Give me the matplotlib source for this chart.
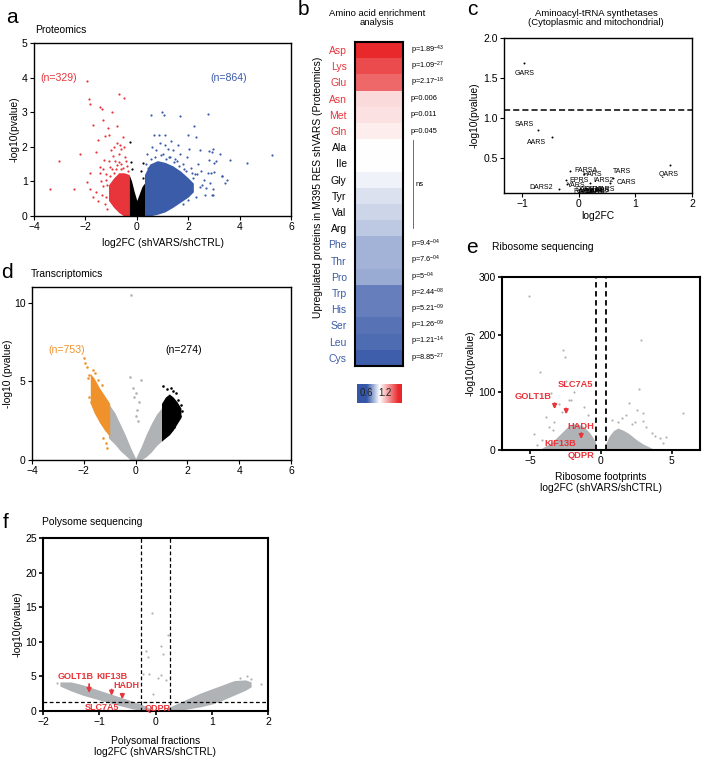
import numpy as np
import matplotlib
matplotlib.use("Agg")
import matplotlib.pyplot as plt
from matplotlib.colors import LinearSegmentedColormap, TwoSlopeNorm

plt.rcParams['font.family'] = ['Liberation Sans', 'DejaVu Sans']
plt.rcParams['mathtext.fontset'] = 'custom'
plt.rcParams['mathtext.rm'] = 'Liberation Sans'
plt.rcParams['axes.linewidth'] = 1.0

W, H = 703, 759
RED, BLUE, ORANGE, GREY = '#e8353b', '#3b5ca8', '#f0922b', '#b0b3b6'

# ---------------- data ----------------
# a: proteomics volcano (dense cores as envelopes + sparse points)
a_black_x = [-0.3, -0.2, -0.1, 0.0, 0.1, 0.2, 0.3]
a_black_hi = [1.2, 1.0, 0.7, 0.45, 0.65, 0.85, 0.95]
a_red_core_x = [-1.1, -0.9, -0.7, -0.5, -0.3]
a_red_core_lo = [0.45, 0.25, 0.1, 0.0, 0.0]
a_red_core_hi = [0.9, 1.1, 1.25, 1.25, 1.2]
a_blue_core_x = [0.3, 0.5, 0.8, 1.1, 1.4, 1.7, 2.0, 2.2]
a_blue_core_lo = [0.0, 0.0, 0.05, 0.12, 0.25, 0.4, 0.55, 0.7]
a_blue_core_hi = [1.2, 1.5, 1.6, 1.55, 1.45, 1.3, 1.1, 0.95]
a_red_x = [-3.38, -3.03, -2.44, -2.2, -1.93, -1.87, -1.81, -1.72, -1.43, -1.37, -1.3, -1.13,
           -0.96, -0.68, -0.5, -0.78, -1.52, -1.82, -1.82, -1.95, -1.24, -1.07, -0.76, -0.53,
           -0.61, -1.59, -1.43, -1.28, -0.93, -1.69, -1.51, -1.3, -1.04, -0.77, -1.2, -1.15,
           -1.4, -1.6, -1.0, -0.85, -0.7, -0.6, -0.9, -1.1, -0.65, -0.45, -0.5, -0.4, -1.35,
           -1.25, -1.15, -0.95, -0.8, -0.7, -1.2, -1.3, -1.05, -0.55, -0.35, -1.45, -1.18,
           -0.88, -0.42, -0.62]
a_red_y = [0.79, 1.6, 0.79, 1.8, 3.91, 3.38, 3.25, 2.64, 3.16, 3.1, 2.77, 2.55,
           3.0, 3.52, 3.4, 2.12, 2.19, 1.25, 0.78, 0.98, 2.32, 2.35, 2.6, 2.29,
           1.93, 1.86, 1.43, 1.63, 1.72, 0.56, 0.44, 0.86, 1.43, 1.48, 1.2, 0.9,
           1.0, 0.7, 1.9, 1.6, 1.8, 1.5, 2.0, 1.6, 2.05, 1.7, 2.0, 1.45, 0.6,
           0.35, 0.2, 1.35, 1.35, 1.55, 1.05, 1.35, 1.15, 1.4, 1.3, 1.25, 0.55,
           1.25, 1.6, 1.35]
a_blue_x = [0.54, 0.97, 1.05, 1.69, 2.78, 2.23, 2.3, 2.0, 0.68, 0.85, 1.08, 1.32, 2.95, 2.82,
            3.24, 3.63, 2.89, 3.3, 3.5, 3.44, 2.66, 2.98, 2.47, 2.27, 1.95, 1.69, 1.42, 2.91,
            2.82, 3.1, 3.02, 4.28, 5.26, 2.77, 3.0, 3.33, 2.85, 2.98, 2.93, 0.4, 0.6, 0.75,
            0.9, 1.0, 1.2, 1.3, 1.5, 1.6, 1.8, 1.9, 2.1, 2.2, 2.4, 2.5, 2.6, 2.1, 2.3, 1.8,
            2.0, 0.55, 0.35, 1.1, 1.7, 2.45, 2.05, 0.7, 0.95, 1.25, 1.55, 1.85, 2.35, 2.55,
            0.45, 1.15, 1.45, 2.15, 2.7, 1.65]
a_blue_y = [2.92, 3.0, 2.92, 2.9, 2.95, 2.6, 2.29, 2.35, 2.35, 2.35, 2.35, 2.18, 1.95, 1.88,
            1.78, 1.63, 1.25, 1.15, 1.04, 0.96, 0.6, 0.6, 0.84, 1.22, 1.7, 1.8, 1.91, 1.86,
            1.62, 1.6, 1.52, 1.53, 1.75, 1.25, 1.26, 1.17, 0.95, 0.77, 0.6, 1.8, 2.0, 1.9,
            2.1, 1.8, 1.95, 1.7, 1.65, 2.05, 1.5, 1.3, 1.4, 1.1, 1.5, 1.3, 1.05, 0.75, 0.55,
            0.35, 0.45, 1.65, 1.5, 2.05, 1.25, 1.9, 1.95, 1.7, 1.75, 1.7, 1.6, 1.35, 1.2,
            0.9, 1.4, 1.65, 1.55, 1.25, 0.8, 1.45]
a_black_px = [-0.27, -0.23, 0.23, -0.2, 0.15, 0.25]
a_black_py = [2.15, 1.57, 1.53, 1.35, 1.3, 1.1]

# b: amino acid enrichment
aa_names = ['Asp', 'Lys', 'Glu', 'Asn', 'Met', 'Gln', 'Ala', 'Ile', 'Gly', 'Tyr', 'Val', 'Arg',
            'Phe', 'Thr', 'Pro', 'Trp', 'His', 'Ser', 'Leu', 'Cys']
aa_group = ['up'] * 6 + ['ns'] * 6 + ['down'] * 8
aa_enrich = [1.6, 1.5, 1.42, 1.1, 1.08, 1.05, 1.0, 1.0, 0.97, 0.93, 0.9, 0.87,
             0.82, 0.82, 0.8, 0.7, 0.7, 0.67, 0.65, 0.62]
aa_pvals = [r'p=1.89$^{\mathregular{-43}}$', r'p=1.09$^{\mathregular{-27}}$',
            r'p=2.17$^{\mathregular{-18}}$', 'p=0.006', 'p=0.011', 'p=0.045',
            '', '', '', '', '', '',
            r'p=9.4$^{\mathregular{-04}}$', r'p=7.6$^{\mathregular{-04}}$',
            r'p=5$^{\mathregular{-04}}$', r'p=2.44$^{\mathregular{-08}}$',
            r'p=5.21$^{\mathregular{-09}}$', r'p=1.26$^{\mathregular{-09}}$',
            r'p=1.21$^{\mathregular{-14}}$', r'p=8.85$^{\mathregular{-27}}$']

# c: aminoacyl-tRNA synthetases
c_genes = ['GARS', 'SARS', 'AARS', 'QARS', 'TARS', 'CARS', 'FARSA', 'HARS', 'EPRS', 'IARS2',
           'YARS', 'DARS2', 'DARS', 'KARS', 'NARS', 'LARS', 'MARS', 'WARS', 'VARS2', 'RARS']
c_fc = [-0.97, -0.72, -0.48, 1.62, 0.6, 0.55, -0.15, 0.1, -0.23, 0.2,
        -0.2, -0.35, 0.05, 0.1, 0.2, 0.28, 0.35, 0.15, 0.4, 0.0]
c_logp = [1.69, 0.85, 0.76, 0.41, 0.25, 0.19, 0.34, 0.3, 0.22, 0.19,
          0.17, 0.11, 0.09, 0.1, 0.08, 0.09, 0.1, 0.07, 0.08, 0.07]
c_cutoff = 1.1

# d: transcriptomics volcano
d_grey_l_x = [-1.05, -0.8, -0.6, -0.4, -0.2, 0.0]
d_grey_l_lo = [1.4, 1.0, 0.6, 0.3, 0.0, 0.0]
d_grey_l_hi = [3.6, 3.0, 2.3, 1.6, 0.8, 0.1]
d_grey_r_x = [0.0, 0.2, 0.4, 0.6, 0.8, 1.0, 1.05]
d_grey_r_lo = [0.0, 0.0, 0.2, 0.5, 0.9, 1.2, 1.25]
d_grey_r_hi = [0.1, 0.8, 1.6, 2.3, 2.9, 3.3, 3.4]
d_orange_core_x = [-1.75, -1.6, -1.4, -1.2, -1.0]
d_orange_core_lo = [3.6, 3.0, 2.4, 1.9, 1.5]
d_orange_core_hi = [5.5, 5.2, 4.6, 4.1, 3.6]
d_black_core_x = [1.0, 1.15, 1.3, 1.45, 1.6, 1.75]
d_black_core_lo = [1.2, 1.4, 1.6, 1.9, 2.3, 2.7]
d_black_core_hi = [3.6, 4.0, 4.2, 4.0, 3.7, 3.3]
d_orange_x = [-2.01, -1.95, -1.87, -1.79, -1.7, -1.85, -1.65, -1.55, -1.45, -1.3, -1.1, -1.15,
              -1.25, -1.8, -1.72]
d_orange_y = [6.47, 6.15, 5.9, 5.4, 4.9, 5.2, 5.7, 5.55, 5.1, 4.8, 0.76, 1.1, 1.4, 4.0, 3.7]
d_black_x = [1.05, 1.2, 1.45, 1.55, 1.65, 1.75, 1.8, 1.35, 1.7, 1.5]
d_black_y = [4.7, 4.5, 4.4, 4.25, 3.8, 3.5, 3.1, 4.6, 2.8, 2.1]
d_grey_x = [-0.18, -0.2, 0.19, 0.0, 0.12, 0.06, -0.07, -0.1, 0.02, 0.08]
d_grey_y = [10.5, 5.3, 5.1, 4.25, 3.7, 3.2, 4.0, 4.6, 2.8, 2.5]

# e: ribosome sequencing
e_core_l_x = [-4.2, -3.7, -3.2, -2.7, -2.2, -1.7, -1.2, -0.8, -0.4]
e_core_l_hi = [3, 10, 20, 32, 44, 46, 40, 30, 15]
e_core_r_x = [0.35, 0.6, 0.9, 1.2, 1.6, 2.0, 2.5, 3.0, 3.6]
e_core_r_hi = [12, 25, 34, 38, 34, 28, 18, 10, 3]
e_x = [-5.1, 2.8, -2.7, -2.57, -4.33, 2.7, -3.57, -2.27, 5.77, 2.0, 2.58, 2.95, 2.4, 3.64,
       4.16, 4.6, -4.75, -4.2, -3.69, -3.3, -3.9, -2.74, -2.15, -1.9, -2.5, -3.0, 1.5, 1.8,
       2.2, 3.2, 3.0, -1.2, -0.9, 0.8, 1.2, -4.5, -3.4, 3.8, 4.4]
e_y = [267, 190, 174, 162, 136, 105, 98, 87, 65, 81, 69, 65, 49, 29,
       20, 22, 28, 18, 40, 49, 58, 66, 87, 101, 120, 80, 55, 60,
       45, 40, 50, 75, 60, 52, 48, 8, 35, 25, 12]
e_cut = 0.32

# f: polysome sequencing
f_core_l_x = [-1.7, -1.5, -1.3, -1.0, -0.7, -0.4, -0.2, -0.1]
f_core_l_lo = [3.6, 2.9, 2.3, 1.6, 0.9, 0.3, 0.0, 0.0]
f_core_l_hi = [4.2, 4.2, 3.8, 3.0, 2.2, 1.4, 0.8, 0.4]
f_core_r_x = [0.2, 0.5, 0.8, 1.0, 1.2, 1.4, 1.6, 1.7]
f_core_r_lo = [0.0, 0.2, 0.6, 1.0, 1.6, 2.3, 3.0, 3.5]
f_core_r_hi = [0.4, 1.5, 2.6, 3.2, 3.8, 4.4, 4.5, 4.2]
f_x = [-0.07, 0.23, 0.09, -0.17, 0.14, -0.14, 0.09, -0.12, -0.22, 0.05, 0.18, 1.62, 1.87,
       -1.75, -1.6, 1.5, 1.7, -0.05]
f_y = [14.2, 11.0, 9.4, 8.7, 8.3, 7.8, 5.2, 5.4, 5.3, 4.7, 4.5, 5.1, 3.9, 4.0, 3.5, 4.8, 4.6, 2.5]
f_cut_x = 0.26
f_cut_y = 1.3


def rect(l, t, r, b):
    return [l / W, 1 - b / H, (r - l) / W, (b - t) / H]


def ftext(x, y, s, **kw):
    fig.text(x / W, 1 - y / H, s, **kw)


def style(ax, lw=1.0):
    for s in ax.spines.values():
        s.set_linewidth(lw)
    ax.tick_params(direction='out', length=3, width=lw * 0.8, labelsize=7.5, pad=1.5)


fig = plt.figure(figsize=(W / 100, H / 100), dpi=100)
LETTER = 15

# ---------------- a ----------------
ax = fig.add_axes(rect(34, 43, 291, 216))
ax.fill_between(a_red_core_x, a_red_core_lo, a_red_core_hi, color=RED, lw=0)
ax.fill_between(a_blue_core_x, a_blue_core_lo, a_blue_core_hi, color=BLUE, lw=0)
ax.fill_between(a_black_x, 0, a_black_hi, color='black', lw=0)
ax.scatter(a_red_x, a_red_y, s=2.5, color=RED, lw=0)
ax.scatter(a_blue_x, a_blue_y, s=2.5, color=BLUE, lw=0)
ax.scatter(a_black_px, a_black_py, s=2.5, color='black', lw=0)
ax.set_xlim(-4, 6)
ax.set_ylim(0, 5)
ax.set_xticks([-4, -2, 0, 2, 4, 6])
ax.set_yticks([0, 1, 2, 3, 4, 5])
ax.text(-3.75, 4.0, '(n=329)', color=RED, fontsize=7.6, va='center')
ax.text(2.85, 4.0, '(n=864)', color=BLUE, fontsize=7.6, va='center')
ax.set_xlabel('log2FC (shVARS/shCTRL)', fontsize=7.4, labelpad=4)
ax.set_ylabel('-log10(pvalue)', fontsize=7.4, labelpad=2)
style(ax)
ftext(6, 23, 'a', fontsize=LETTER)
ftext(35, 30, 'Proteomics', fontsize=7.4, va='center')

# ---------------- b ----------------
cmap = LinearSegmentedColormap.from_list('bwr2', ['#3557a7', '#ffffff', '#e8282b'])
norm = TwoSlopeNorm(vmin=0.6, vcenter=1.0, vmax=1.6)
ax = fig.add_axes(rect(355, 42, 403, 366))
n = len(aa_names)
ax.imshow(np.array(aa_enrich)[:, None], cmap=cmap, norm=norm, aspect='auto',
          extent=[0, 1, n - 0.5, -0.5])
ax.set_xlim(0, 1)
ax.set_ylim(n - 0.5, -0.5)
ax.set_xticks([])
ax.set_yticks(range(n))
ax.set_yticklabels(aa_names, fontsize=7.5)
gcol = {'up': RED, 'ns': 'black', 'down': BLUE}
for lab, g in zip(ax.get_yticklabels(), aa_group):
    lab.set_color(gcol[g])
ax.tick_params(axis='y', length=0, pad=6)
for s in ax.spines.values():
    s.set_linewidth(1.5)
ytr = ax.get_yaxis_transform()
for i, p in enumerate(aa_pvals):
    if p:
        ax.annotate(p, xy=(1, i), xycoords=ytr, xytext=(5.5, 0), textcoords='offset points',
                    fontsize=5.3, va='center', ha='left', annotation_clip=False)
# bracket for the non-significant rows
fig.add_artist(plt.Line2D([413 / W, 413 / W], [1 - 140 / H, 1 - 228 / H], color='#555555',
                          lw=0.6))
ftext(416, 184, 'ns', fontsize=5.5, va='center')
ftext(318, 187, 'Upregulated proteins in M395 RES shVARS (Proteomics)', fontsize=7.4,
      rotation=90, ha='center', va='center')
ftext(298, 15, 'b', fontsize=LETTER)
ftext(377, 18, 'Amino acid enrichment\nanalysis', fontsize=6.8, ha='center', va='center',
      linespacing=1.1)

cax = fig.add_axes(rect(357, 384, 401, 403))
grad = np.linspace(0.3, 1.7, 256)[None, :]
cax.imshow(grad, cmap=cmap, norm=norm, aspect='auto', extent=[0.3, 1.7, 0, 1])
cax.set_xticks([])
cax.set_yticks([])
for s in cax.spines.values():
    s.set_visible(False)
cax.text(0.6, 0.5, '0.6', fontsize=7, ha='center', va='center', color='#222222')
cax.text(1.2, 0.5, '1.2', fontsize=7, ha='center', va='center', color='#222222')

# ---------------- c ----------------
ax = fig.add_axes(rect(504, 38, 692, 193))
ax.scatter(c_fc, c_logp, s=2, color='black', lw=0, zorder=3)
ax.axhline(c_cutoff, color='black', lw=1.1, ls=(0, (4, 2)))
c_lab_pos = {'GARS': (-0.95, 1.55), 'SARS': (-0.96, 0.92), 'AARS': (-0.75, 0.69),
             'QARS': (1.58, 0.29), 'TARS': (0.77, 0.33), 'CARS': (0.84, 0.19),
             'FARSA': (0.12, 0.34), 'HARS': (0.23, 0.29), 'EPRS': (0.0, 0.22),
             'IARS2': (0.44, 0.22), 'YARS': (-0.05, 0.15), 'DARS2': (-0.67, 0.13),
             'DARS': (0.12, 0.1), 'KARS': (0.25, 0.11), 'NARS': (0.3, 0.08),
             'LARS': (0.38, 0.09), 'MARS': (0.45, 0.1), 'WARS': (0.18, 0.07),
             'VARS2': (0.35, 0.07), 'RARS': (0.08, 0.08)}
for g in c_genes:
    lx, ly = c_lab_pos[g]
    ax.text(lx, ly, g, fontsize=5, ha='center', va='center', clip_on=False)
ax.set_xlim(-1.32, 2.0)
ax.set_ylim(0.06, 2.0)
ax.set_xticks([-1, 0, 1, 2])
ax.set_yticks([0.5, 1.0, 1.5, 2.0])
ax.set_yticklabels(['0.5', '1.0', '1.5', '2.0'])
ax.set_xlabel('log2FC', fontsize=7.4, labelpad=1)
ax.set_ylabel('-log10(pvalue)', fontsize=7.4, labelpad=3)
style(ax)
ftext(467, 15, 'c', fontsize=LETTER)
ftext(596, 18, 'Aminoacyl-tRNA synthetases\n(Cytoplasmic and mitochondrial)', fontsize=6.8,
      ha='center', va='center', linespacing=1.05)

# ---------------- d ----------------
ax = fig.add_axes(rect(32, 287, 291, 460))
ax.fill_between(d_grey_l_x, d_grey_l_lo, d_grey_l_hi, color=GREY, lw=0)
ax.fill_between(d_grey_r_x, d_grey_r_lo, d_grey_r_hi, color=GREY, lw=0)
ax.fill_between(d_orange_core_x, d_orange_core_lo, d_orange_core_hi, color=ORANGE, lw=0)
ax.fill_between(d_black_core_x, d_black_core_lo, d_black_core_hi, color='black', lw=0)
ax.scatter(d_grey_x, d_grey_y, s=3.5, color=GREY, lw=0)
ax.scatter(d_orange_x, d_orange_y, s=3.5, color=ORANGE, lw=0)
ax.scatter(d_black_x, d_black_y, s=3.5, color='black', lw=0)
ax.set_xlim(-4, 6)
ax.set_ylim(0, 11)
ax.set_xticks([-4, -2, 0, 2, 4, 6])
ax.set_yticks([0, 5, 10])
ax.text(-3.35, 7.0, '(n=753)', color=ORANGE, fontsize=7.6, va='center')
ax.text(1.15, 7.0, '(n=274)', color='black', fontsize=7.6, va='center')
ax.set_ylabel('-log10 (pvalue)', fontsize=7.4, labelpad=1)
style(ax)
ftext(1, 278, 'd', fontsize=LETTER)
ftext(31, 274, 'Transcriptomics', fontsize=7.4, va='center')

# ---------------- e ----------------
ax = fig.add_axes(rect(502, 277, 700, 450))
ax.fill_between(e_core_l_x, 0, e_core_l_hi, color=GREY, lw=0)
ax.fill_between(e_core_r_x, 0, e_core_r_hi, color=GREY, lw=0)
ax.scatter(e_x, e_y, s=2.5, color=GREY, lw=0)
for xc in (-e_cut, e_cut):
    ax.axvline(xc, color='black', lw=1.3, ls=(0, (3, 2)))
ax.set_xlim(-7, 7)
ax.set_ylim(0, 300)
ax.set_xticks([-5, 0, 5])
ax.set_yticks([0, 100, 200, 300])
kw = dict(color=RED, fontsize=6.7, fontweight='bold', ha='center', va='center', clip_on=False)
ax.text(-1.84, 114, 'SLC7A5', **kw)
ax.text(-4.82, 92, 'GOLT1B', **kw)
ax.text(-1.45, 40, 'HADH', **kw)
ax.text(-2.9, 12, 'KIF13B', **kw)
ax.text(-1.42, -10, 'QDPR', **kw)
akw = dict(arrowstyle='-|>', color=RED, lw=1.3, mutation_scale=6)
ax.annotate('', xy=(-3.28, 66), xytext=(-3.28, 86), arrowprops=akw)
ax.annotate('', xy=(-2.46, 57), xytext=(-2.46, 77), arrowprops=akw)
ax.annotate('', xy=(-1.4, 14), xytext=(-1.4, 34), arrowprops=akw)
ax.set_xlabel('Ribosome footprints\nlog2FC (shVARS/shCTRL)', fontsize=7.4, labelpad=4,
              linespacing=1.2)
ax.set_ylabel('-log10(pvalue)', fontsize=7.4, labelpad=2)
style(ax, 1.5)
ftext(466, 253, 'e', fontsize=LETTER)
ftext(492, 247, 'Ribosome sequencing', fontsize=7.4, va='center')

# ---------------- f ----------------
ax = fig.add_axes(rect(43, 538, 268, 711))
ax.fill_between(f_core_l_x, f_core_l_lo, f_core_l_hi, color=GREY, lw=0)
ax.fill_between(f_core_r_x, f_core_r_lo, f_core_r_hi, color=GREY, lw=0)
ax.scatter(f_x, f_y, s=2.5, color=GREY, lw=0)
for xc in (-f_cut_x, f_cut_x):
    ax.axvline(xc, color='black', lw=0.9, ls=(0, (3, 2)))
ax.axhline(f_cut_y, color='black', lw=0.9, ls=(0, (3, 2)))
ax.set_xlim(-2, 2)
ax.set_ylim(0, 25)
ax.set_xticks([-2, -1, 0, 1, 2])
ax.set_yticks([0, 5, 10, 15, 20, 25])
kw = dict(color=RED, fontsize=6.5, fontweight='bold', ha='center', va='center', clip_on=False)
ax.text(-1.42, 5.0, 'GOLT1B', **kw)
ax.text(-0.78, 5.0, 'KIF13B', **kw)
ax.text(-0.51, 3.75, 'HADH', **kw)
ax.text(-0.95, 0.5, 'SLC7A5', **kw)
ax.text(0.03, 0.4, 'QDPR', **kw)
ax.annotate('', xy=(-1.18, 2.2), xytext=(-1.18, 4.3), arrowprops=akw)
ax.annotate('', xy=(-0.78, 1.8), xytext=(-0.78, 3.5), arrowprops=akw)
ax.annotate('', xy=(-0.59, 1.3), xytext=(-0.59, 2.9), arrowprops=akw)
ax.set_xlabel('Polysomal fractions\nlog2FC (shVARS/shCTRL)', fontsize=7.4, labelpad=6,
              linespacing=1.2)
ax.set_ylabel('-log10(pvalue)', fontsize=7.4, labelpad=2)
style(ax, 1.5)
ftext(3, 528, 'f', fontsize=LETTER)
ftext(42, 522, 'Polysome sequencing', fontsize=7.4, va='center')

fig.savefig('out.png', dpi=100, facecolor='white')
